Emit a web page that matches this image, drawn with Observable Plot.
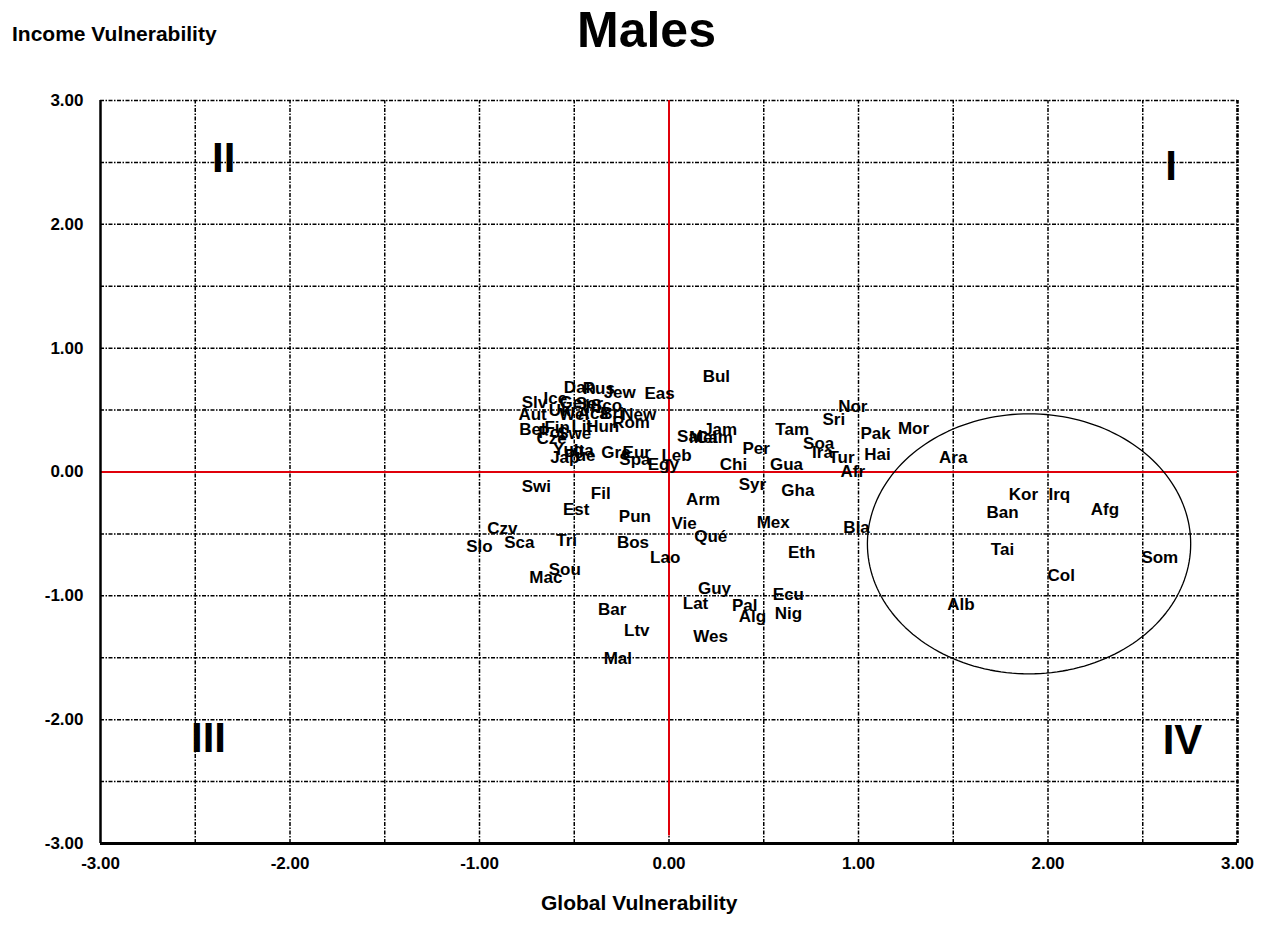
<!DOCTYPE html>
<html>
<head>
<meta charset="utf-8">
<script src="https://cdn.jsdelivr.net/npm/d3@7"></script>
<script src="https://cdn.jsdelivr.net/npm/@observablehq/plot@0.6"></script>
<style>
  body { margin: 0; background: #fff; }
  #wrap { position: relative; width: 1266px; height: 941px; font-family: "Liberation Sans", Arial, sans-serif; font-weight: bold; color: #000; }
  #chart { position: absolute; left: 0; top: 0; }
  .lbl { position: absolute; white-space: nowrap; }
</style>
</head>
<body>
<div id="wrap">
  <div id="chart"></div>
  <div class="lbl" style="left:577px; top:5px; font-size:50px; line-height:50px;">Males</div>
  <div class="lbl" style="left:12px; top:23px; font-size:21px; line-height:21px;">Income Vulnerability</div>
  <div class="lbl" style="left:541px; top:892px; font-size:21px; line-height:21px;">Global Vulnerability</div>
</div>
<script>
// Group labels and their coordinates (Global Vulnerability, Income Vulnerability)
const groups = ["Dan","Rus","Jew","Eas","Ice","Slv","Ger","Ser","Sco","Iri","Ukr","Aut","Wel","Aca","Bri","New","Rom","Hun","Lit","Fin","Bel","Pol","Swe","Cze","Yug","Ita","Jap","Pue","Gre","Eur","Spa","Leb","Egy",
  "Bul","Sal","Mel","Cam","Jam","Tam","Nor","Sri","Pak","Mor","Soa","Per","Ira","Tur","Hai","Ara","Chi","Gua","Afr",
  "Swi","Fil","Est","Pun","Arm","Syr","Gha","Vie","Qué","Mex","Bla","Eth","Czv","Slo","Sca","Tri","Bos","Lao","Mac","Sou",
  "Guy","Lat","Ecu","Pal","Alg","Nig","Bar","Ltv","Wes","Mal",
  "Kor","Irq","Ban","Afg","Tai","Som","Col","Alb"];
const globalV = [-0.47,-0.37,-0.26,-0.05,-0.60,-0.71,-0.50,-0.42,-0.33,-0.40,-0.56,-0.72,-0.50,-0.40,-0.30,-0.16,-0.20,-0.35,-0.46,-0.59,-0.72,-0.62,-0.50,-0.62,-0.53,-0.45,-0.55,-0.47,-0.28,-0.17,-0.18,0.04,-0.03,
  0.25,0.11,0.18,0.24,0.27,0.65,0.97,0.87,1.09,1.29,0.79,0.46,0.81,0.91,1.10,1.50,0.34,0.62,0.97,
  -0.70,-0.36,-0.49,-0.18,0.18,0.44,0.68,0.08,0.22,0.55,0.99,0.70,-0.88,-1.00,-0.79,-0.54,-0.19,-0.02,-0.65,-0.55,
  0.24,0.14,0.63,0.40,0.44,0.63,-0.30,-0.17,0.22,-0.27,
  1.87,2.06,1.76,2.30,1.76,2.59,2.07,1.54];
const incomeV = [0.68,0.67,0.64,0.63,0.59,0.56,0.56,0.55,0.54,0.52,0.50,0.46,0.46,0.47,0.47,0.46,0.40,0.37,0.37,0.36,0.34,0.32,0.31,0.27,0.18,0.17,0.12,0.13,0.16,0.16,0.10,0.13,0.06,
  0.77,0.29,0.28,0.28,0.34,0.34,0.53,0.42,0.31,0.35,0.23,0.19,0.16,0.12,0.14,0.12,0.06,0.06,0.00,
  -0.12,-0.17,-0.30,-0.36,-0.22,-0.10,-0.15,-0.42,-0.52,-0.41,-0.45,-0.65,-0.46,-0.60,-0.57,-0.55,-0.57,-0.69,-0.85,-0.79,
  -0.94,-1.06,-0.99,-1.08,-1.17,-1.14,-1.11,-1.28,-1.33,-1.51,
  -0.18,-0.18,-0.33,-0.30,-0.63,-0.69,-0.84,-1.07];

// Quadrant labels
const quadNames = ["II","I","III","IV"];
const quadX = [-2.35, 2.65, -2.43, 2.71];
const quadY = [2.53, 2.47, -2.15, -2.17];

// Axis ticks
const tickValues = [-3, -2, -1, 0, 1, 2, 3];
const tickLabels = ["-3.00","-2.00","-1.00","0.00","1.00","2.00","3.00"];
const gridValues = [-2.5,-2,-1.5,-1,-0.5,0,0.5,1,1.5,2,2.5,3];

// Highlight ellipse (centre and radii in data units)
const ellipseCenter = [1.90, -0.58];
const ellipseRadii = [0.853, 1.05];

const points = groups.map((g, i) => ({name: g, x: globalV[i], y: incomeV[i]}));
const quads = quadNames.map((q, i) => ({name: q, x: quadX[i], y: quadY[i]}));
const ellipse = d3.range(0, 361, 2).map(a => ({
  x: ellipseCenter[0] + ellipseRadii[0] * Math.cos(a * Math.PI / 180),
  y: ellipseCenter[1] + ellipseRadii[1] * Math.sin(a * Math.PI / 180)
}));
const fmt = d => tickLabels[tickValues.indexOf(d)];
const dash = "4,1.5,1.5,1.5";

const chart = Plot.plot({
  width: 1266,
  height: 941,
  marginLeft: 100,
  marginRight: 29,
  marginTop: 100,
  marginBottom: 98,
  style: {fontFamily: "'Liberation Sans', Arial, sans-serif", fontWeight: "bold", fontSize: "17px", color: "#000", background: "#fff"},
  x: {domain: [-3, 3], ticks: tickValues, tickFormat: fmt, tickSize: 0, tickPadding: 13, label: null},
  y: {domain: [-3, 3], ticks: tickValues, tickFormat: fmt, tickSize: 0, tickPadding: 17, label: null},
  marks: [
    Plot.ruleX(gridValues, {y1: -3, y2: 3, stroke: "#000", strokeWidth: 1.5, strokeDasharray: dash}),
    Plot.ruleY(gridValues, {x1: -3, x2: 3, stroke: "#000", strokeWidth: 1.5, strokeDasharray: dash}),
    Plot.ruleX([3], {y1: -3, y2: 3, stroke: "#000", strokeWidth: 2.5, strokeDasharray: dash}),
    Plot.ruleY([0], {x1: -3, x2: 3, stroke: "#e0000a", strokeWidth: 2}),
    Plot.ruleX([0], {y1: -2.94, y2: 3, stroke: "#e0000a", strokeWidth: 2}),
    Plot.ruleX([-3], {y1: -3, y2: 3, stroke: "#000", strokeWidth: 2.5}),
    Plot.ruleY([-3], {x1: -3, x2: 3, stroke: "#000", strokeWidth: 3}),
    Plot.line(ellipse, {x: "x", y: "y", stroke: "#000", strokeWidth: 1.3, curve: "linear"}),
    Plot.text(points, {x: "x", y: "y", text: "name", fontSize: 17, fontWeight: "bold", fill: "#000"}),
    Plot.text(quads, {x: "x", y: "y", text: "name", fontSize: 42, fontWeight: "bold", fill: "#000"})
  ]
});
document.getElementById("chart").appendChild(chart);
</script>
</body>
</html>
